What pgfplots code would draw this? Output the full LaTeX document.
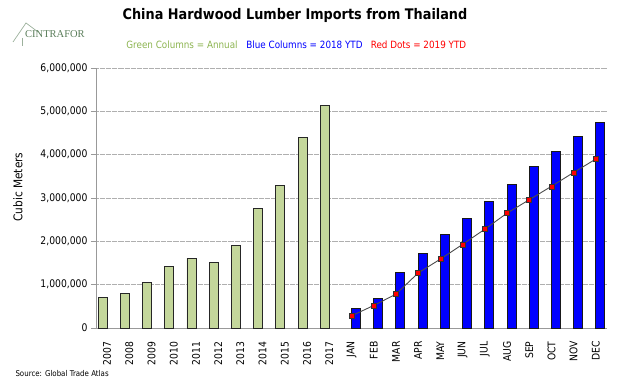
\documentclass[border=0pt]{standalone}
\usepackage{fontspec}
\setmainfont{DejaVu Sans}[FakeStretch=0.88]
\newfontfamily\logofont{Liberation Serif}
\usepackage{pgfplots}
\pgfplotsset{compat=1.18}
\definecolor{greenfill}{RGB}{196,215,155}
\definecolor{greentext}{RGB}{140,180,80}
\definecolor{logogreen}{RGB}{90,125,90}
\definecolor{gridgray}{RGB}{175,175,175}
\begin{document}
\begin{tikzpicture}
\path[use as bounding box] (-96bp,-52bp) rectangle (544bp,328bp);
\begin{axis}[
  scale only axis,
  width=511bp, height=260bp,
  xmin=-0.5, xmax=22.5,
  ymin=0, ymax=6000000,
  ytick={0,1000000,2000000,3000000,4000000,5000000,6000000},
  scaled y ticks=false,
  /pgf/number format/fixed,
  /pgf/number format/1000 sep={,},
  /pgf/number format/assume math mode=true,
  xtick={0,...,22},
  xticklabels={2007,2008,2009,2010,2011,2012,2013,2014,2015,2016,2017,JAN,FEB,MAR,APR,MAY,JUN,JUL,AUG,SEP,OCT,NOV,DEC},
  xticklabel style={rotate=90, anchor=east, font=\fontsize{10.5bp}{12bp}\selectfont, xshift=-5bp},
  yticklabel style={font=\fontsize{10.5bp}{12bp}\selectfont},
  major x tick style={draw=none},
  extra x ticks={-0.5,0.5,...,22.5},
  extra x tick labels={},
  extra x tick style={grid=none, major tick length=5bp, tick style={draw=gray!80, line width=0.6pt}, tick align=outside},
  y tick style={draw=gray!80, line width=0.6pt},
  major tick length=5bp,
  tick align=outside,
  ymajorgrids,
  grid style={draw=gridgray, dash pattern=on 0.6pt off 0.6pt, line width=0.9pt},
  axis x line*=bottom,
  axis y line*=left,
  axis line style={draw=gray!80, line width=0.8pt, -},
  clip=false,
]
\addplot[ybar, bar width=9bp, bar shift=-4.5bp, fill=greenfill, draw=black!85, line width=0.9pt]
  coordinates {(0,700000) (1,790000) (2,1040000) (3,1420000) (4,1610000) (5,1520000) (6,1900000) (7,2750000) (8,3280000) (9,4390000) (10,5140000)};
\addplot[ybar, bar width=9bp, bar shift=4.5bp, fill=blue, draw=black!90, line width=0.9pt]
  coordinates {(11,440000) (12,690000) (13,1280000) (14,1710000) (15,2150000) (16,2530000) (17,2920000) (18,3320000) (19,3720000) (20,4080000) (21,4430000) (22,4750000)};
\addplot[sharp plot, draw=black!70, line width=0.9pt, mark=square*, mark size=2.5bp, mark options={fill=red, draw=black!80, line width=0.5pt}]
  coordinates {(11,280000) (12,520000) (13,780000) (14,1270000) (15,1590000) (16,1930000) (17,2280000) (18,2650000) (19,2960000) (20,3270000) (21,3590000) (22,3900000)};
\end{axis}
\node[font=\bfseries\fontsize{14.6bp}{16bp}\selectfont] at (199bp,313bp) {China Hardwood Lumber Imports from Thailand};
\node[font=\fontsize{10bp}{12bp}\selectfont, text=greentext] at (86bp,283bp) {Green Columns = Annual};
\node[font=\fontsize{10bp}{12bp}\selectfont, text=blue] at (208.5bp,283bp) {Blue Columns = 2018 YTD};
\node[font=\fontsize{10bp}{12bp}\selectfont, text=red] at (322.5bp,283bp) {Red Dots = 2019 YTD};
\node[rotate=90, font=\fontsize{12bp}{14bp}\selectfont] at (-78bp,141bp) {Cubic Meters};
\node[anchor=west, font=\fontsize{8bp}{10bp}\selectfont] at (-84bp,-46bp) {Source: Global Trade Atlas};
\draw[logogreen!60, line width=0.7pt] (-83bp,286bp) -- (-70bp,305bp) -- (-58bp,296bp);
\draw[logogreen!60, line width=0.7pt] (-74bp,290bp) -- (-74bp,282bp);
\node[font=\logofont\fontsize{10.5bp}{12bp}\selectfont, text=logogreen] at (-41bp,294bp) {CINTRAFOR};
\end{tikzpicture}
\end{document}
